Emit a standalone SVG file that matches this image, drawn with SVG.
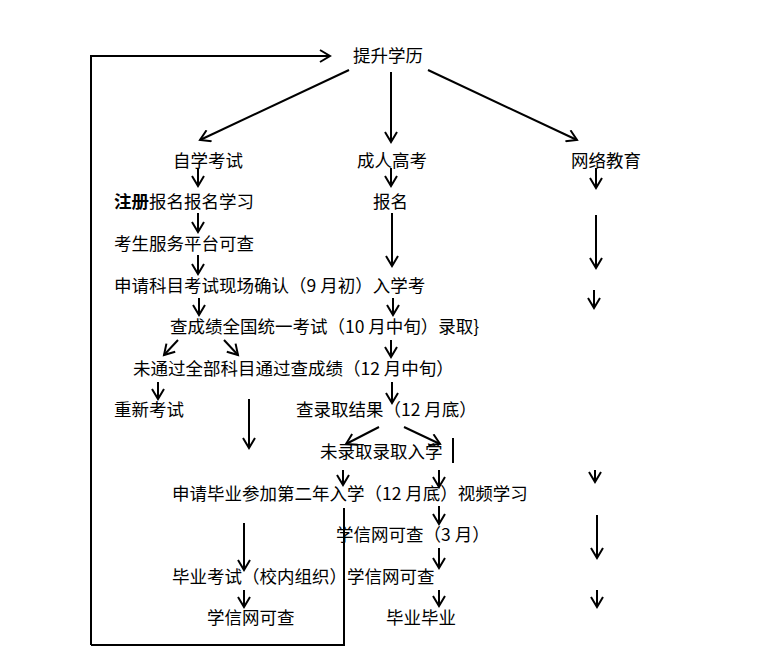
<svg xmlns="http://www.w3.org/2000/svg" width="784" height="667" viewBox="0 0 784 667">
<style>
text{font-family:"Noto Sans CJK SC","Liberation Sans",sans-serif;font-size:17.5px;fill:#000}
.c line,.c polyline{stroke:#000;stroke-width:2;fill:none}
.b{font-weight:bold}
</style>
<defs><marker id="a" markerUnits="userSpaceOnUse" markerWidth="14" markerHeight="14" refX="11" refY="7" orient="auto"><polyline points="1,1 11,7 1,13" fill="none" stroke="#000" stroke-width="2"/></marker></defs>
<rect width="784" height="667" fill="#fff"/>
<g class="c">
<polyline points="91,645 91,56 330,56" marker-end="url(#a)"/>
<polyline points="91,645 344,645 344,508"/>
<line x1="349" y1="70" x2="200" y2="140" marker-end="url(#a)"/>
<line x1="391" y1="72" x2="391" y2="142" marker-end="url(#a)"/>
<line x1="428" y1="70" x2="577" y2="140" marker-end="url(#a)"/>
<line x1="198" y1="168" x2="198" y2="186" marker-end="url(#a)"/>
<line x1="391" y1="168" x2="391" y2="186" marker-end="url(#a)"/>
<line x1="596" y1="168" x2="596" y2="188" marker-end="url(#a)"/>
<line x1="198" y1="213" x2="198" y2="232" marker-end="url(#a)"/>
<line x1="198" y1="255" x2="198" y2="274" marker-end="url(#a)"/>
<line x1="392" y1="213" x2="392" y2="266" marker-end="url(#a)"/>
<line x1="596" y1="215" x2="596" y2="268" marker-end="url(#a)"/>
<line x1="594" y1="290" x2="594" y2="308" marker-end="url(#a)"/>
<line x1="199" y1="298" x2="199" y2="315" marker-end="url(#a)"/>
<line x1="393" y1="298" x2="393" y2="315" marker-end="url(#a)"/>
<line x1="178" y1="340" x2="164" y2="355" marker-end="url(#a)"/>
<line x1="224" y1="340" x2="238" y2="355" marker-end="url(#a)"/>
<line x1="391" y1="340" x2="391" y2="357" marker-end="url(#a)"/>
<line x1="158" y1="382" x2="158" y2="399" marker-end="url(#a)"/>
<line x1="249" y1="399" x2="249" y2="448" marker-end="url(#a)"/>
<line x1="392" y1="382" x2="392" y2="403" marker-end="url(#a)"/>
<line x1="379" y1="427" x2="346" y2="444" marker-end="url(#a)"/>
<line x1="404" y1="427" x2="440" y2="444" marker-end="url(#a)"/>
<line x1="343" y1="470" x2="343" y2="485" marker-end="url(#a)"/>
<line x1="439" y1="470" x2="439" y2="487" marker-end="url(#a)"/>
<line x1="595" y1="470" x2="595" y2="482" marker-end="url(#a)"/>
<line x1="244" y1="523" x2="244" y2="570" marker-end="url(#a)"/>
<line x1="439" y1="506" x2="439" y2="524" marker-end="url(#a)"/>
<line x1="597" y1="515" x2="597" y2="558" marker-end="url(#a)"/>
<line x1="439" y1="548" x2="439" y2="568" marker-end="url(#a)"/>
<line x1="244" y1="590" x2="244" y2="607" marker-end="url(#a)"/>
<line x1="439" y1="590" x2="439" y2="606" marker-end="url(#a)"/>
<line x1="597" y1="590" x2="597" y2="607" marker-end="url(#a)"/>
<line x1="453" y1="438" x2="453" y2="463" stroke-width="1.5"/>
</g>
<g id="n1"><text x="353" y="62">提升学历</text></g>
<g id="n2"><text x="173" y="167">自学考试</text></g>
<g id="n3"><text x="357" y="167">成人高考</text></g>
<g id="n4"><text x="571" y="167">网络教育</text></g>
<g id="n5"><text x="114" y="208"><tspan class="b">注册</tspan>报名报名学习</text></g>
<g id="n6"><text x="373" y="208">报名</text></g>
<g id="n7"><text x="114" y="250">考生服务平台可查</text></g>
<g id="n8"><text x="114" y="292">申请科目考试现场确认（9 月初）入学考</text></g>
<g id="n9"><text x="170" y="333">查成绩全国统一考试（10 月中旬）录取}</text></g>
<g id="n10"><text x="133" y="375">未通过全部科目通过查成绩（12 月中旬）</text></g>
<g id="n11"><text x="114" y="416">重新考试</text></g>
<g id="n12"><text x="296" y="416">查录取结果（12 月底）</text></g>
<g id="n13"><text x="320" y="458">未录取录取入学</text></g>
<g id="n14"><text x="172" y="500">申请毕业参加第二年入学（12 月底）视频学习</text></g>
<g id="n15"><text x="336" y="541">学信网可查（3 月）</text></g>
<g id="n16"><text x="172" y="583">毕业考试（校内组织）学信网可查</text></g>
<g id="n17"><text x="207" y="624">学信网可查</text></g>
<g id="n18"><text x="386" y="624">毕业毕业</text></g>
</svg>
